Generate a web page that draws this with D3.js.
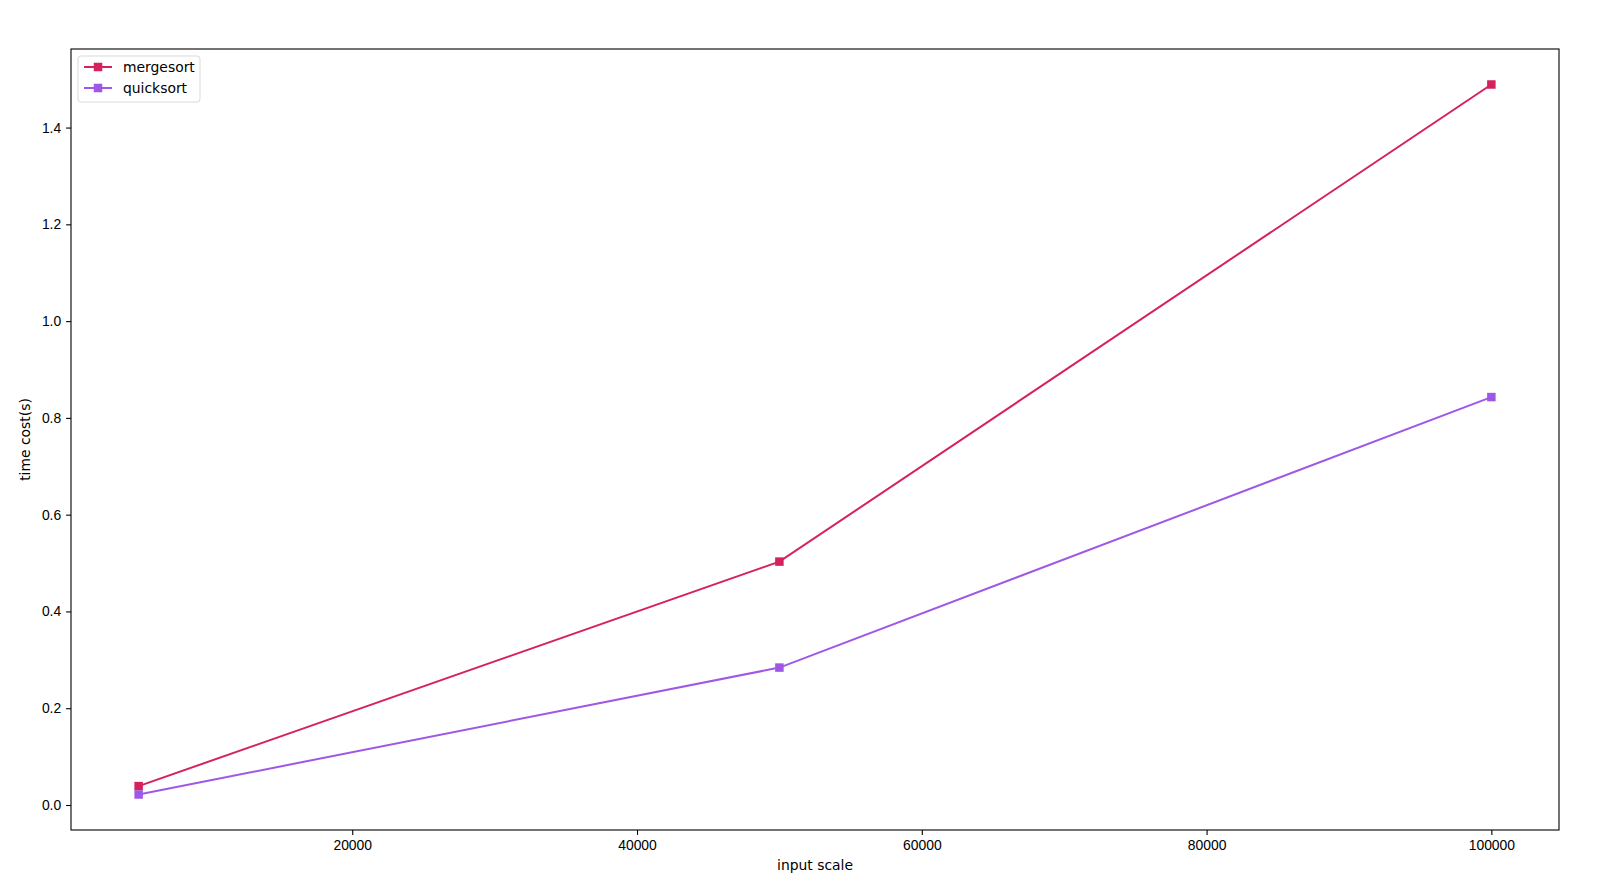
<!DOCTYPE html>
<html>
<head>
<meta charset="utf-8">
<script src="https://cdn.jsdelivr.net/npm/d3@7"></script>
<style>
  body { margin: 0; background: #fff; }
  svg { font-family: "DejaVu Sans", sans-serif; }
  .tick text { font-size: 13.9px; fill: #000; }
  .axis-label { font-size: 13.9px; fill: #000; }
  .legend-text { font-size: 13.9px; fill: #000; }
</style>
</head>
<body>
<div id="chart"></div>
<script>
// input sizes and timings (seconds)
const inputScale = [5000, 50000, 100000];
const mergesort = [0.039, 0.503, 1.489];
const quicksort = [0.0217, 0.284, 0.843];
const seriesNames = ["mergesort", "quicksort"];
const seriesColors = ["#d6225c", "#9f58e6"];
const xTicks = [20000, 40000, 60000, 80000, 100000];
const yTicks = [0.0, 0.2, 0.4, 0.6, 0.8, 1.0, 1.2, 1.4];

const width = 1606, height = 891;
const margin = { top: 49, right: 47, bottom: 61, left: 71 };

const svg = d3.select("#chart").append("svg")
  .attr("width", width)
  .attr("height", height);

const series = [mergesort, quicksort].map((vals, i) => ({
  name: seriesNames[i],
  color: seriesColors[i],
  values: vals.map((v, j) => ({ x: inputScale[j], y: v }))
}));

// matplotlib-style 5% padding around data
const xMin = d3.min(inputScale), xMax = d3.max(inputScale);
const allY = mergesort.concat(quicksort);
const yMin = d3.min(allY), yMax = d3.max(allY);
const xPad = (xMax - xMin) * 0.05, yPad = (yMax - yMin) * 0.05;

const x = d3.scaleLinear()
  .domain([xMin - xPad, xMax + xPad])
  .range([margin.left, width - margin.right]);
const y = d3.scaleLinear()
  .domain([yMin - yPad, yMax + yPad])
  .range([height - margin.bottom, margin.top]);

// axes
const xAxis = svg.append("g")
  .attr("transform", "translate(0," + (height - margin.bottom) + ")")
  .call(d3.axisBottom(x).tickValues(xTicks).tickFormat(d3.format("d")).tickSize(4.9).tickPadding(4.9));
const yAxis = svg.append("g")
  .attr("transform", "translate(" + margin.left + ",0)")
  .call(d3.axisLeft(y).tickValues(yTicks).tickFormat(d3.format(".1f")).tickSize(4.9).tickPadding(4.9));
[xAxis, yAxis].forEach(g => {
  g.select(".domain").remove();
  g.selectAll(".tick line").attr("stroke", "#000").attr("stroke-width", 1.1);
});

// frame
svg.append("rect")
  .attr("x", margin.left)
  .attr("y", margin.top)
  .attr("width", width - margin.left - margin.right)
  .attr("height", height - margin.top - margin.bottom)
  .attr("fill", "none")
  .attr("stroke", "#000")
  .attr("stroke-width", 1.1);

// lines and markers
const line = d3.line().x(d => x(d.x)).y(d => y(d.y));
const ms = 8.5;

series.forEach(s => {
  svg.append("path")
    .datum(s.values)
    .attr("fill", "none")
    .attr("stroke", s.color)
    .attr("stroke-width", 2)
    .attr("d", line);
  svg.selectAll(null)
    .data(s.values)
    .enter()
    .append("rect")
    .attr("x", d => x(d.x) - ms / 2)
    .attr("y", d => y(d.y) - ms / 2)
    .attr("width", ms)
    .attr("height", ms)
    .attr("fill", s.color);
});

// axis labels
svg.append("text")
  .attr("class", "axis-label")
  .attr("x", (margin.left + width - margin.right) / 2)
  .attr("y", 870)
  .attr("text-anchor", "middle")
  .text("input scale");
svg.append("text")
  .attr("class", "axis-label")
  .attr("transform", "translate(30," + ((margin.top + height - margin.bottom) / 2) + ") rotate(-90)")
  .attr("text-anchor", "middle")
  .text("time cost(s)");

// legend
const legend = svg.append("g").attr("transform", "translate(78,56)");
legend.append("rect")
  .attr("width", 122)
  .attr("height", 46)
  .attr("rx", 3)
  .attr("fill", "#fff")
  .attr("fill-opacity", 0.8)
  .attr("stroke", "#d9d9d9");
series.forEach((s, i) => {
  const ly = 11 + i * 21;
  legend.append("line")
    .attr("x1", 6).attr("x2", 34)
    .attr("y1", ly).attr("y2", ly)
    .attr("stroke", s.color)
    .attr("stroke-width", 2);
  legend.append("rect")
    .attr("x", 20 - ms / 2).attr("y", ly - ms / 2)
    .attr("width", ms).attr("height", ms)
    .attr("fill", s.color);
  legend.append("text")
    .attr("class", "legend-text")
    .attr("x", 45)
    .attr("y", ly + 5)
    .text(s.name);
});
</script>
</body>
</html>
